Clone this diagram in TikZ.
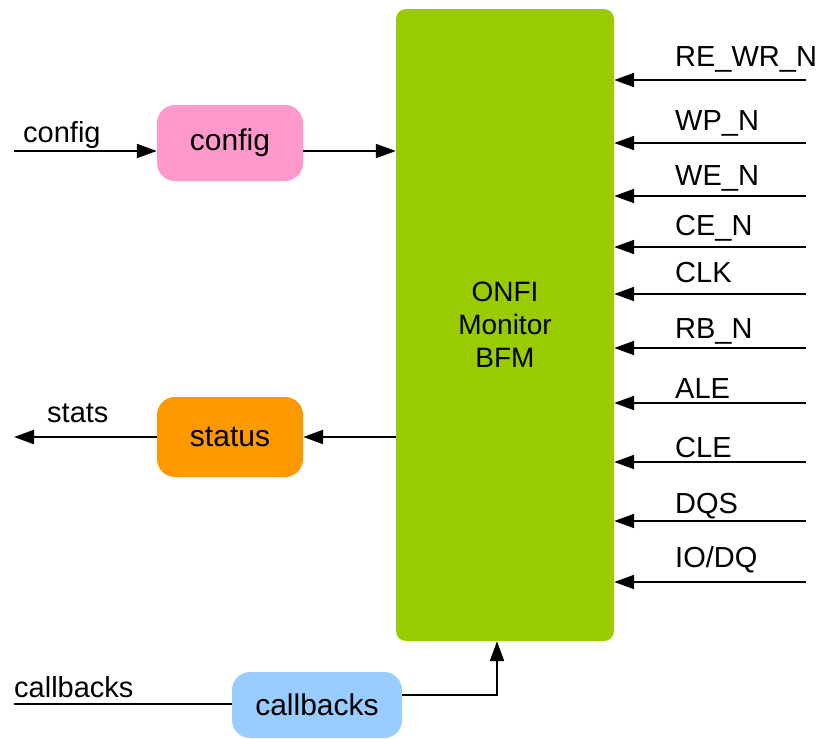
\documentclass[tikz,border=0pt]{standalone}
\usepackage{fontspec}
\setmainfont{Liberation Sans}
\usetikzlibrary{arrows.meta}
\definecolor{cgreen}{HTML}{99CC00}
\definecolor{cpink}{HTML}{FF99CC}
\definecolor{corange}{HTML}{FF9900}
\definecolor{cblue}{HTML}{99CCFF}
\tikzset{
  blk/.style={draw=none, rounded corners=18pt, inner sep=0pt, font=\fontsize{30}{34}\selectfont, align=center},
  arr/.style={line width=2.2pt, -{Triangle[length=20pt,width=14pt]}},
  ln/.style={line width=2.2pt},
  lbl/.style={inner sep=0pt, anchor=base west, font=\fontsize{29}{33}\selectfont},
}
\begin{document}
\begin{tikzpicture}[x=1pt,y=-1pt]
\useasboundingbox (0,0) rectangle (820,739);
% main block
\node[blk, fill=cgreen, rounded corners=10pt, minimum width=218pt, minimum height=632pt, font=\fontsize{28}{33}\selectfont] (main) at (505,325) {ONFI\\Monitor\\BFM};
% side boxes
\node[blk, fill=cpink, minimum width=146pt, minimum height=76pt] (config) at (230,143) {config};
\node[blk, fill=corange, minimum width=146pt, minimum height=80pt] (status) at (230,437) {status};
\node[blk, fill=cblue, minimum width=170pt, minimum height=66pt] (callbacks) at (317,705) {callbacks};
% config
\coordinate (cin) at (14,151);
\draw[arr] (cin) -- (cin -| config.west);
\draw[arr] (cin -| config.east) -- (cin -| main.west);
\node[lbl] (lcfg) at (23,142) {config};
% status
\coordinate (sout) at (14,437);
\draw[arr] (sout -| main.west) -- (sout -| status.east);
\draw[arr] (sout -| status.west) -- (sout);
\node[lbl] (lstats) at (47,422) {stats};
% callbacks
\coordinate (cbin) at (14,704);
\draw[ln] (cbin) -- (cbin -| callbacks.west);
\coordinate (cbturn) at (497,695);
\draw[arr] (cbturn -| callbacks.east) -- (cbturn) -- (cbturn |- main.south);
\node[lbl] (lcb) at (14,697) {callbacks};
% right side signals
\foreach \name/\ly/\by [count=\i] in {{RE\_WR\_N}/80/66, {WP\_N}/143/130, {WE\_N}/196/185, {CE\_N}/247/235, {CLK}/294/282, {RB\_N}/348/338, {ALE}/403/398, {CLE}/462/457, {DQS}/521/513, {IO/DQ}/582/567}{
  \coordinate (s\i) at (806,\ly);
  \draw[arr] (s\i) -- (s\i -| main.east);
  \node[lbl] (l\i) at (675,\by) {\name};
}
\end{tikzpicture}
\end{document}
